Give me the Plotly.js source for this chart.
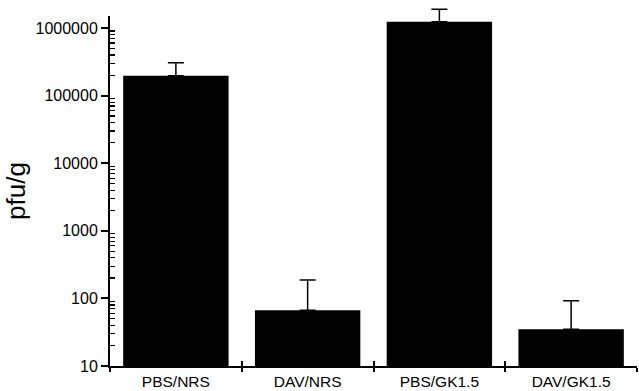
<!DOCTYPE html>
<html>
<head>
<meta charset="utf-8">
<script src="https://cdn.plot.ly/plotly-3.0.1.min.js"></script>
<style>html,body{margin:0;padding:0;background:#fff;}#chart{width:639px;height:391px;}</style>
</head>
<body>
<div id="chart"></div>
<script>
const categories = ["PBS/NRS", "DAV/NRS", "PBS/GK1.5", "DAV/GK1.5"];
const meanValues = [197000, 67, 1240000, 35];
const errorPlus = [110000, 120, 650000, 57];

const font = "Arial, 'Liberation Sans', sans-serif";
const plotTop = 5, axisTop = 16, axisBottom = 366;
const decadePx = 67.6;
const mainDomainTop = (axisBottom - axisTop) / (axisBottom - plotTop);
const yRangeMain = [1, 1 + (axisBottom - axisTop) / decadePx];
const yRangeErr = [1, 1 + (axisBottom - plotTop) / decadePx];

const minorTicks = [];
for (let d = 1; d <= 5; d++) {
  for (let m = 2; m <= 9; m++) minorTicks.push(m * Math.pow(10, d));
}

const traces = [
  {
    type: "bar",
    x: categories,
    y: meanValues,
    marker: {color: "#000000", line: {width: 0}},
    width: 0.8,
    hoverinfo: "skip"
  },
  {
    type: "scatter",
    mode: "markers",
    x: categories,
    y: meanValues,
    xaxis: "x2",
    yaxis: "y2",
    marker: {opacity: 0, size: 1},
    error_y: {
      type: "data",
      symmetric: false,
      array: errorPlus,
      arrayminus: errorPlus.map(() => 0),
      color: "#000000",
      thickness: 1.5,
      width: 8
    },
    hoverinfo: "skip",
    showlegend: false
  }
];

const layout = {
  width: 639,
  height: 391,
  margin: {l: 110, r: 2, t: plotTop, b: 25},
  paper_bgcolor: "#ffffff",
  plot_bgcolor: "rgba(0,0,0,0)",
  showlegend: false,
  font: {family: font, color: "#000000", size: 16},
  xaxis: {
    type: "category",
    domain: [0, 1],
    range: [-0.5, 3.5],
    showline: true,
    linecolor: "#000000",
    linewidth: 2,
    showgrid: false,
    zeroline: false,
    ticks: "outside",
    tickson: "boundaries",
    ticklen: 4,
    tickwidth: 2,
    tickcolor: "#000000",
    tickfont: {family: font, size: 15.5, color: "#000000"},
    fixedrange: true
  },
  yaxis: {
    type: "log",
    domain: [0, mainDomainTop],
    range: yRangeMain,
    showline: true,
    linecolor: "#000000",
    linewidth: 2,
    showgrid: false,
    zeroline: false,
    ticks: "outside",
    ticklen: 7,
    tickwidth: 2,
    tickcolor: "#000000",
    tickmode: "linear",
    tick0: 0,
    dtick: 1,
    tickformat: "d",
    tickfont: {family: font, size: 16, color: "#000000"},
    title: {text: "pfu/g", font: {family: font, size: 26, color: "#000000"}, standoff: 2},
    fixedrange: true
  },
  xaxis2: {
    type: "category",
    domain: [0, 1],
    anchor: "y2",
    range: [-0.5, 3.5],
    showline: false,
    showgrid: false,
    zeroline: false,
    ticks: "inside",
    tickson: "boundaries",
    ticklen: 5,
    tickwidth: 2,
    tickcolor: "#000000",
    showticklabels: false,
    fixedrange: true
  },
  yaxis2: {
    type: "log",
    domain: [0, 1],
    anchor: "x2",
    range: yRangeErr,
    showline: false,
    showgrid: false,
    zeroline: false,
    ticks: "inside",
    ticklen: 5,
    tickwidth: 1.2,
    tickcolor: "#000000",
    tickmode: "array",
    tickvals: minorTicks,
    showticklabels: false,
    fixedrange: true
  }
};

Plotly.newPlot("chart", traces, layout, {displayModeBar: false, staticPlot: true});
</script>
</body>
</html>
